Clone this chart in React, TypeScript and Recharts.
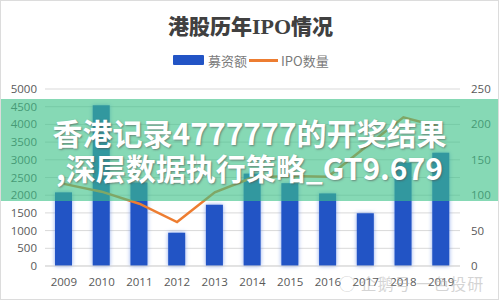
import type { FC } from 'react';
import { ComposedChart, Bar, Line, XAxis, YAxis, CartesianGrid } from 'recharts';

const years = ['2009', '2010', '2011', '2012', '2013', '2014', '2015', '2016', '2017', '2018', '2019'];
const fundsRaised = [2080, 4540, 2360, 940, 1730, 2610, 2340, 2050, 1490, 2920, 3200];
const ipoCount = [116, 105, 88, 62, 104, 125, 127, 126, 168, 210, 196];
const leftTicks = [0, 500, 1000, 1500, 2000, 2500, 3000, 3500, 4000, 4500, 5000];
const rightTicks = [0, 50, 100, 150, 200, 250];

const data = years.map((year, i) => ({ year, funds: fundsRaised[i], count: ipoCount[i] }));

const tickStyle = { fontSize: 11.5, fill: '#595959', fontFamily: '"Open Sans", sans-serif' };

const GlowBar = (props: any) => {
    const { x, y, width, height, fill } = props;
    if (height <= 0) return null;
    return (
        <rect x={x} y={y} width={width} height={height} fill={fill}
            style={{ filter: 'drop-shadow(0 0 2px rgba(90,130,230,0.7))' }} />
    );
};

const App: FC = () => {
    return (
        <div style={{ position: 'absolute', left: 0, top: 0, width: 499, height: 300, background: '#fff', overflow: 'hidden', boxSizing: 'border-box', border: '1px solid #dcdcdc' }}>
            <div style={{ position: 'absolute', left: 0, top: 10, width: 499, textAlign: 'center', fontFamily: '"Noto Sans CJK SC", sans-serif', fontWeight: 900, fontSize: 21, color: '#404040', lineHeight: '28px' }}>
                港股历年<span style={{ fontFamily: '"Liberation Serif", serif', fontWeight: 700, fontSize: 22 }}>IPO</span>情况
            </div>
            <div style={{ position: 'absolute', left: 172, top: 50, height: 18, display: 'flex', alignItems: 'center', fontFamily: '"Noto Sans CJK SC", sans-serif', fontSize: 13, color: '#7a7a7a' }}>
                <span style={{ display: 'inline-block', width: 31, height: 10, background: '#2254c5', borderRadius: 1, marginRight: 4 }} />
                <span>募资额</span>
                <span style={{ display: 'inline-block', width: 29, height: 3, background: '#ed7d31', margin: '0 3px 0 2px' }} />
                <span>IPO数量</span>
            </div>
            <div style={{ position: 'absolute', left: -1, top: -1 }}>
                <ComposedChart width={499} height={300} data={data} margin={{ top: 89, right: 0, bottom: 4, left: 0 }}>
                    <CartesianGrid vertical={false} stroke="#d9d9d9" yAxisId="left" />
                    <XAxis dataKey="year" tickLine={false} axisLine={{ stroke: '#d9d9d9' }} tick={tickStyle} tickMargin={6} height={30} />
                    <YAxis yAxisId="left" width={45} domain={[0, 5000]} ticks={leftTicks} tickLine={false} axisLine={false} tick={tickStyle} interval={0} />
                    <YAxis yAxisId="right" orientation="right" width={39} domain={[0, 250]} ticks={rightTicks} tickLine={false} axisLine={false} tick={tickStyle} tickMargin={5} interval={0} />
                    <Bar yAxisId="left" dataKey="funds" fill="#2254c5" barSize={17} shape={GlowBar} isAnimationActive={false} />
                    <Line yAxisId="right" dataKey="count" type="linear" stroke="#ed7d31" strokeWidth={2.5} dot={false} isAnimationActive={false} />
                </ComposedChart>
            </div>
            <div style={{ position: 'absolute', left: 338, top: 270, fontFamily: '"Noto Sans CJK SC", sans-serif', fontSize: 16, color: 'rgba(170,170,170,0.5)', letterSpacing: 1, whiteSpace: 'nowrap' }}>
                ◯ 企鹅号 一色投研
            </div>
            <div style={{ position: 'absolute', left: -1, top: 98, width: 499, height: 102, background: 'rgba(60,193,135,0.62)', display: 'flex', flexDirection: 'column', alignItems: 'center', justifyContent: 'center', fontFamily: '"Noto Sans CJK SC", sans-serif', fontWeight: 700, fontSize: 30, lineHeight: '35px', color: '#fff', textShadow: '1px 1px 2px rgba(80,80,80,0.6)', whiteSpace: 'nowrap' }}>
                <div>香港记录4777777的开奖结果</div>
                <div>,深层数据执行策略_GT9.679</div>
            </div>
        </div>
    );
};

export default App;
